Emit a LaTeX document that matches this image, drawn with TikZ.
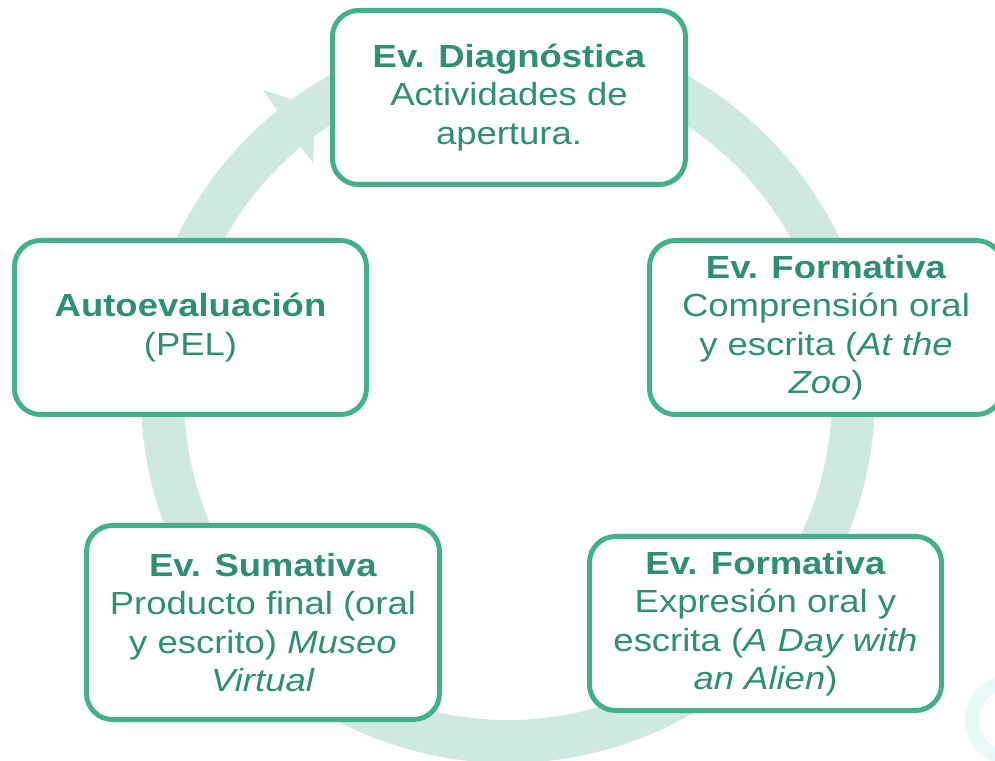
\documentclass[tikz,border=0pt]{standalone}
\usepackage{fontspec}
\setmainfont{Liberation Sans}[FakeStretch=1.14]
\definecolor{ringc}{HTML}{D0E9DF}
\definecolor{boxc}{HTML}{42B08F}
\definecolor{txtc}{HTML}{2F8F74}
\definecolor{smudge}{HTML}{E6FAF8}
\begin{document}
\begin{tikzpicture}[x=1pt,y=1pt,
  box/.style={draw=boxc, line width=5pt, fill=white, rounded corners=26pt,
    text=txtc, align=center, inner sep=0pt,
    font=\fontsize{32}{38.5}\selectfont}]
\useasboundingbox (0,0) rectangle (995,760);
% faint background decoration at lower right
\draw[smudge, line width=14pt] (1010,40) circle (38);
% ring arrow
\coordinate (C) at (508,364);
\fill[ringc] (C) ++(129:367) arc[start angle=129, end angle=-285, radius=367]
  -- ([shift={(75:324)}]C) arc[start angle=-285, end angle=129, radius=324] -- cycle;
\fill[ringc] (277,650) -- (263,670) -- (315,653) -- (313,597) -- (300,614) -- cycle;
% boxes
\node[box, minimum width=353pt, minimum height=174pt] (diag) at (509,662.5)
  {\textbf{Ev. Diagnóstica}\\Actividades de\\apertura.};
\node[box, minimum width=353pt, minimum height=174pt] (form1) at (826,432.5)
  {\textbf{Ev. Formativa}\\Comprensión oral\\y escrita (\textit{At the}\\\textit{Zoo})};
\node[box, minimum width=352pt, minimum height=174pt] (auto) at (190.5,432.5)
  {\textbf{Autoevaluación}\\(PEL)};
\node[box, minimum width=353pt, minimum height=194pt] (suma) at (263,137.5)
  {\textbf{Ev. Sumativa}\\Producto final (oral\\y escrito) \textit{Museo}\\\textit{Virtual}};
\node[box, minimum width=352pt, minimum height=174pt] (form2) at (765.5,136.5)
  {\textbf{Ev. Formativa}\\Expresión oral y\\escrita (\textit{A Day with}\\\textit{an Alien})};
\end{tikzpicture}
\end{document}
